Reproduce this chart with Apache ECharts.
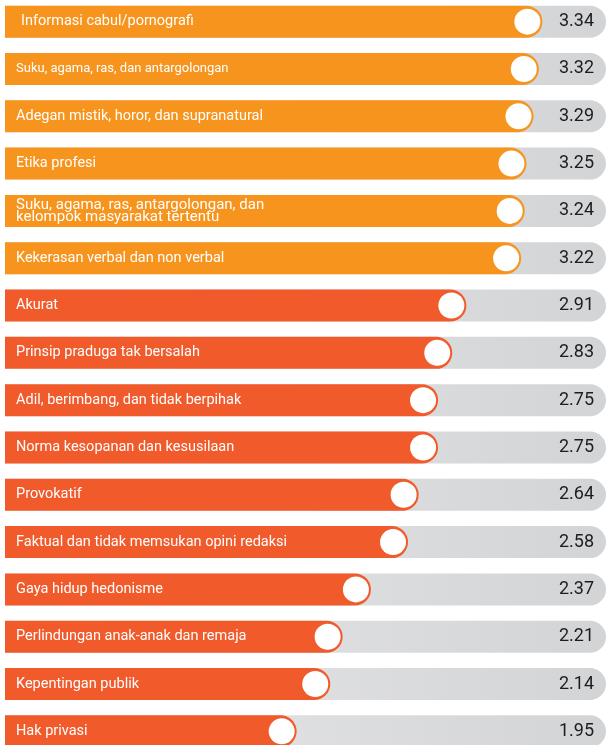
<!DOCTYPE html>
<html>
<head>
<meta charset="utf-8">
<script src="https://cdn.jsdelivr.net/npm/echarts@6/dist/echarts.min.js"></script>
<style>
  html, body { margin: 0; padding: 0; background: #fff; }
  #chart { width: 607px; height: 745px; }
</style>
</head>
<body>
<div id="chart"></div>
<script>
var categories = [
    'Informasi cabul/pornografi',
    'Suku, agama, ras, dan antargolongan',
    'Adegan mistik, horor, dan supranatural',
    'Etika profesi',
    'Suku, agama, ras, antargolongan, dan\nkelompok masyarakat tertentu',
    'Kekerasan verbal dan non verbal',
    'Akurat',
    'Prinsip praduga tak bersalah',
    'Adil, berimbang, dan tidak berpihak',
    'Norma kesopanan dan kesusilaan',
    'Provokatif',
    'Faktual dan tidak memsukan opini redaksi',
    'Gaya hidup hedonisme',
    'Perlindungan anak-anak dan remaja',
    'Kepentingan publik',
    'Hak privasi'
];
var values = [3.34, 3.32, 3.29, 3.25, 3.24, 3.22, 2.91, 2.83, 2.75, 2.75, 2.64, 2.58, 2.37, 2.21, 2.14, 1.95];
var valueLabels = ['3.34', '3.32', '3.29', '3.25', '3.24', '3.22', '2.91', '2.83', '2.75', '2.75', '2.64', '2.58', '2.37', '2.21', '2.14', '1.95'];
var groupOf = ['a', 'a', 'a', 'a', 'a', 'a', 'b', 'b', 'b', 'b', 'b', 'b', 'b', 'b', 'b', 'b'];

var colors = { a: '#F7941E', b: '#F15A2B' };

var barData = values.map(function (v, i) {
    var item = {
        value: v,
        itemStyle: { color: colors[groupOf[i]] }
    };
    if (i === 0) item.label = { distance: 16 };
    if (i === 1) item.label = { fontSize: 13 };
    if (i === 4) item.label = { lineHeight: 12, fontSize: 15 };
    return item;
});

var myChart = echarts.init(document.getElementById('chart'));
myChart.setOption({
    animation: false,
    grid: { left: 5, right: 1, top: -2, height: 757, outerBoundsMode: 'none' },
    xAxis: {
        type: 'value',
        min: 0.3,
        max: 3.7,
        show: false
    },
    yAxis: [
        {
            type: 'category',
            data: categories,
            inverse: true,
            show: false
        },
        {
            type: 'category',
            data: valueLabels,
            inverse: true,
            position: 'right',
            z: 10,
            axisLine: { show: false },
            axisTick: { show: false },
            axisLabel: {
                inside: true,
                margin: 12,
                color: '#1d1d1f',
                fontFamily: 'Roboto',
                fontSize: 18
            }
        }
    ],
    series: [
        {
            type: 'bar',
            data: barData,
            barWidth: 32,
            showBackground: true,
            backgroundStyle: {
                color: new echarts.graphic.LinearGradient(0, 0, 1, 0, [
                    { offset: 0, color: '#e9e9ea' },
                    { offset: 1, color: '#d3d4d6' }
                ]),
                borderRadius: [0, 16, 16, 0]
            },
            itemStyle: { borderRadius: [0, 16, 16, 0] },
            label: {
                show: true,
                position: 'insideLeft',
                distance: 11,
                formatter: '{b}',
                color: '#fff',
                fontFamily: 'Roboto',
                fontSize: 14.5
            },
            z: 2
        },
        {
            type: 'scatter',
            data: values.map(function (v, i) { return [v, categories[i]]; }),
            symbolSize: 26,
            symbolOffset: [-15, 0],
            itemStyle: { color: '#fff', opacity: 1 },
            z: 3
        }
    ]
});
</script>
</body>
</html>
